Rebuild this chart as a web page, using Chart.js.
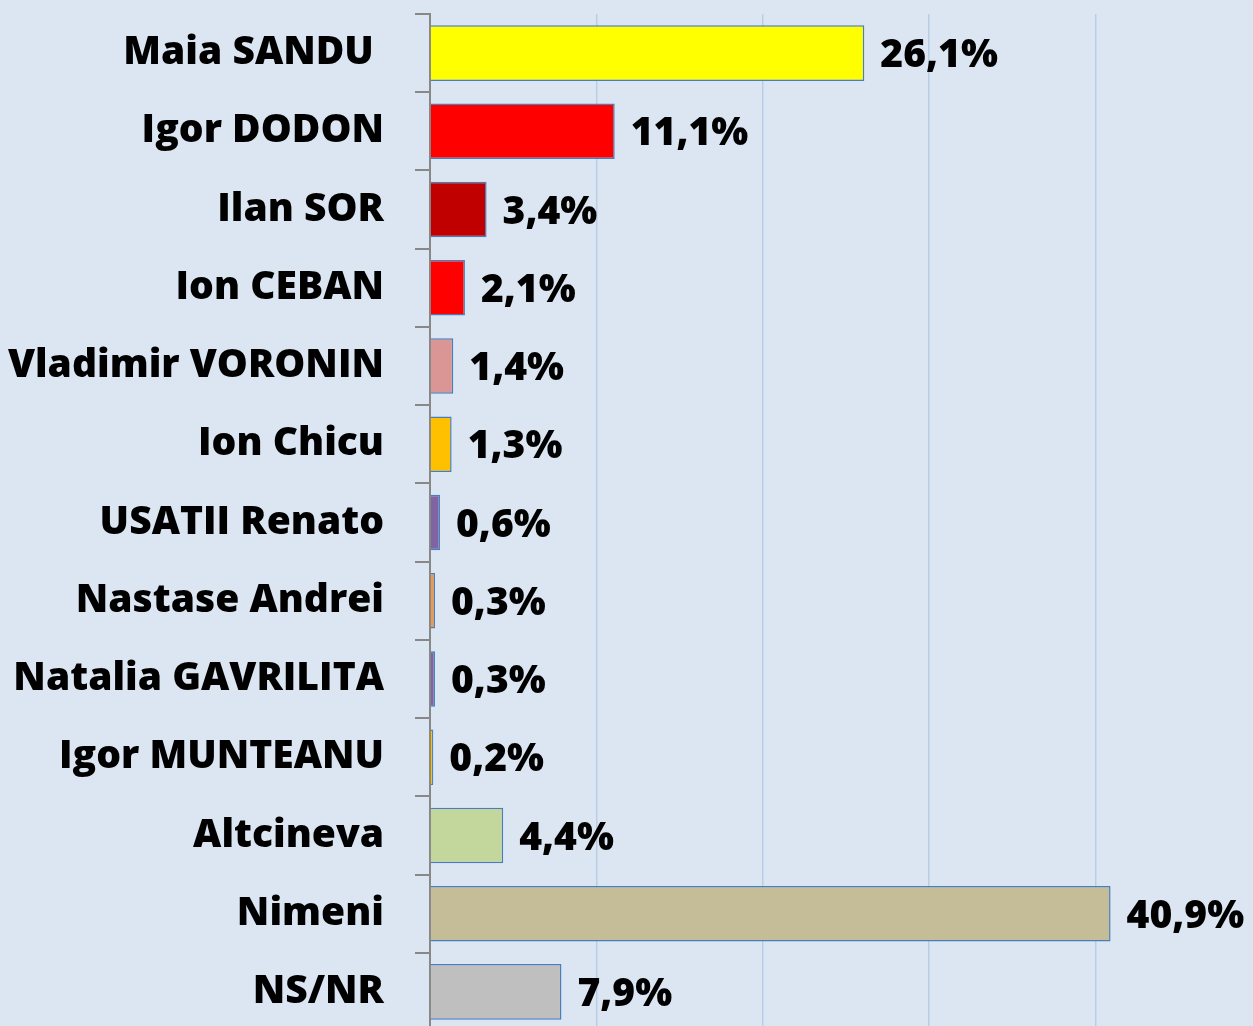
<!DOCTYPE html>
<html>
<head>
<meta charset="utf-8">
<script src="https://cdn.jsdelivr.net/npm/chart.js@4/dist/chart.umd.min.js"></script>
<style>
html, body { margin: 0; padding: 0; overflow: hidden; background: #dce6f2; }
#wrap { width: 1262px; height: 1031px; position: relative; }
</style>
</head>
<body>
<div id="wrap"><canvas id="chart"></canvas></div>
<script>
// data
const candidates = ['Maia SANDU ', 'Igor DODON', 'Ilan SOR', 'Ion CEBAN', 'Vladimir VORONIN', 'Ion Chicu',
    'USATII Renato', 'Nastase Andrei', 'Natalia GAVRILITA', 'Igor MUNTEANU', 'Altcineva', 'Nimeni', 'NS/NR'];
const shares = [26.1, 11.1, 3.4, 2.1, 1.4, 1.3, 0.6, 0.3, 0.3, 0.2, 4.4, 40.9, 7.9];
const barColors = ['#ffff00', '#ff0000', '#c00000', '#ff0000', '#d99694', '#ffc000',
    '#8064a2', '#f79646', '#8064a2', '#ffc000', '#c3d69b', '#c4bd97', '#bfbfbf'];

const FONT = 'Open Sans';

// value labels at the end of each bar
const endLabels = {
    id: 'endLabels',
    afterDatasetsDraw(chart) {
        const ctx = chart.ctx;
        const meta = chart.getDatasetMeta(0);
        ctx.save();
        ctx.font = '800 39px "' + FONT + '"';
        ctx.fillStyle = '#000';
        ctx.textAlign = 'left';
        ctx.textBaseline = 'middle';
        meta.data.forEach((bar, i) => {
            const txt = shares[i].toFixed(1).replace('.', ',') + '%';
            ctx.fillText(txt, bar.x + 16, bar.y + 3);
        });
        ctx.restore();
    }
};

new Chart('chart', {
    type: 'bar',
    data: {
        labels: candidates,
        datasets: [{
            data: shares,
            backgroundColor: barColors,
            borderColor: '#4a7ebb',
            borderWidth: 1.5,
            categoryPercentage: 1,
            barPercentage: 0.71
        }]
    },
    options: {
        indexAxis: 'y',
        responsive: true,
        maintainAspectRatio: false,
        animation: false,
        layout: {padding: {top: 14, left: 0, right: 0, bottom: 0}},
        plugins: {legend: {display: false}, tooltip: {enabled: false}},
        scales: {
            x: {
                min: 0,
                max: 50,
                afterFit: (s) => { s.height = 0; s.paddingLeft = 0; s.paddingRight = 0; },
                ticks: {display: false, stepSize: 10},
                border: {display: false},
                grid: {
                    drawTicks: false,
                    lineWidth: 1.5,
                    color: (c) => (c.tick && c.tick.value > 0 && c.tick.value < 50) ? '#b9cde5' : 'rgba(0,0,0,0)'
                }
            },
            y: {
                afterFit: (s) => { s.width = 430; s.paddingTop = 0; s.paddingBottom = 0; },
                border: {color: '#888888', width: 2},
                grid: {drawOnChartArea: false, tickLength: 15, color: '#888888', lineWidth: 2},
                ticks: {
                    color: '#000',
                    padding: 31,
                    font: {family: FONT, size: 39, weight: 800}
                }
            }
        }
    },
    plugins: [endLabels]
});
</script>
</body>
</html>
